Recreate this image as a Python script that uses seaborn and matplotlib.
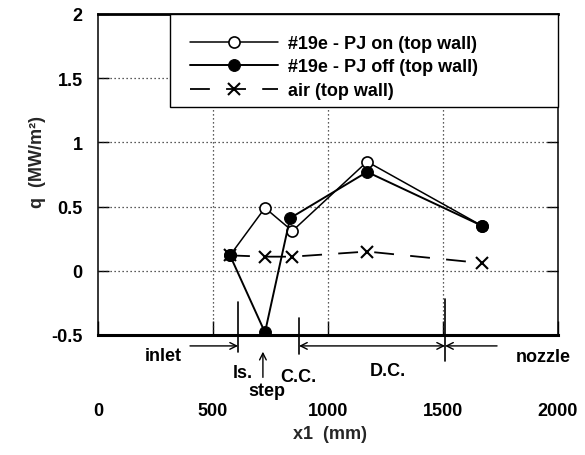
import matplotlib
matplotlib.use("Agg")
import matplotlib.pyplot as plt
from matplotlib.patches import Rectangle
import seaborn as sns
import pandas as pd

# ---- data ----
x_on = [574, 726, 845, 1170, 1670]
q_on = [0.12, 0.49, 0.31, 0.85, 0.35]
x_off = [574, 726, 835, 1170, 1670]
q_off = [0.12, -0.48, 0.41, 0.77, 0.35]
x_air = [574, 726, 845, 1170, 1670]
q_air = [0.12, 0.11, 0.11, 0.15, 0.06]
series_labels = ["#19e - PJ on (top wall)", "#19e - PJ off (top wall)", "air (top wall)"]
xticks = [0, 500, 1000, 1500, 2000]
yticks = [-0.5, 0, 0.5, 1, 1.5, 2]
ytick_labels = ["-0.5", "0", "0.5", "1", "1.5", "2"]
region_bounds = [609, 874, 1509]
region_names = ["inlet", "ls.", "step", "C.C.", "D.C.", "nozzle"]

sns.set_theme(style="ticks")
plt.rcParams["font.family"] = ["Liberation Sans", "DejaVu Sans"]
plt.rcParams["font.weight"] = "bold"
plt.rcParams["text.color"] = "black"

FS = 13

fig = plt.figure(figsize=(5.85, 4.56), dpi=100)
ax = fig.add_axes([98 / 585, 1 - 336 / 456, 460 / 585, 321 / 456])

df_on = pd.DataFrame({"x": x_on, "q": q_on})
df_off = pd.DataFrame({"x": x_off, "q": q_off})
df_air = pd.DataFrame({"x": x_air, "q": q_air})

sns.lineplot(data=df_air, x="x", y="q", ax=ax, sort=False, estimator=None,
             color="black", lw=1.3, dashes=False, label=series_labels[2],
             marker="x", markersize=8, markeredgewidth=1.5,
             markeredgecolor="black", zorder=3)
ax.lines[-1].set_dashes((11, 9))
sns.lineplot(data=df_on, x="x", y="q", ax=ax, sort=False, estimator=None,
             color="black", lw=1.1, label=series_labels[0],
             marker="o", markersize=8, markerfacecolor="white",
             markeredgecolor="black", markeredgewidth=1.2, zorder=4)
sns.lineplot(data=df_off, x="x", y="q", ax=ax, sort=False, estimator=None,
             color="black", lw=1.4, label=series_labels[1],
             marker="o", markersize=8.5, markerfacecolor="black",
             markeredgecolor="black", zorder=5)

ax.set_xlim(0, 2000)
ax.set_ylim(-0.5, 2)
ax.set_xticks(xticks)
ax.set_yticks(yticks)
ax.set_yticklabels(ytick_labels)

for v in yticks[1:-1]:
    ax.axhline(v, color="0.15", lw=0.9, ls=(0, (1, 2.2)), zorder=1)
for v in xticks[1:-1]:
    ax.axvline(v, color="0.15", lw=0.9, ls=(0, (1, 2.2)), zorder=1)

ax.tick_params(axis="y", which="both", direction="in", left=True, right=True,
               length=8, width=1, labelsize=FS, pad=11, colors="black")
ax.tick_params(axis="x", which="both", direction="in", bottom=True, top=False,
               length=10, width=1, labelsize=FS, pad=48, colors="black")

for side, lw in [("left", 1.1), ("right", 1.1), ("top", 2.0), ("bottom", 2.2)]:
    ax.spines[side].set_visible(True)
    ax.spines[side].set_linewidth(lw)
    ax.spines[side].set_color("black")

ax.set_xlabel("x1  (mm)", fontsize=FS, fontweight="bold")
ax.set_ylabel("q  (MW/m²)", fontsize=FS, fontweight="bold")
ax.xaxis.set_label_coords((330 - 98) / 460, (336 - 426) / 321)
ax.yaxis.set_label_coords((46 - 98) / 460, (336 - 162) / 321)

# legend frame
rect = Rectangle(((170 - 98) / 460, (336 - 108) / 321), 1 - (170 - 98) / 460,
                 1 - (336 - 108) / 321, transform=ax.transAxes, facecolor="white",
                 edgecolor="black", lw=1.0, zorder=6, clip_on=False)
ax.add_patch(rect)
handles, labels = ax.get_legend_handles_labels()
order = [labels.index(l) for l in series_labels]
leg = ax.legend([handles[i] for i in order], [labels[i] for i in order],
                loc="upper left", bbox_to_anchor=((190 - 98) / 460, (336 - 36) / 321),
                frameon=False, borderpad=0, borderaxespad=0,
                prop={"size": FS, "weight": "bold"},
                handlelength=4.9, handletextpad=0.5, labelspacing=0.36)
leg.set_zorder(7)

# region annotations below the axis
lo = [-0.63, -0.65, -0.70]
hi = [-0.24, -0.37, -0.22]
for xb, y0, y1 in zip(region_bounds, lo, hi):
    ax.plot([xb, xb], [y0, y1], color="black", lw=1.2, clip_on=False, zorder=3)

ya = -0.585
arrow = dict(arrowstyle="->", color="black", lw=1.0, shrinkA=0, shrinkB=0)
ax.annotate("", xy=(region_bounds[0], ya), xytext=(400, ya), arrowprops=arrow,
            annotation_clip=False)
ax.annotate("", xy=(region_bounds[1], ya), xytext=(region_bounds[2], ya),
            arrowprops=dict(arrowstyle="<->", color="black", lw=1.0, shrinkA=0, shrinkB=0),
            annotation_clip=False)
ax.annotate("", xy=(region_bounds[2], ya), xytext=(1735, ya), arrowprops=arrow,
            annotation_clip=False)
ax.annotate("", xy=(717, -0.63), xytext=(717, -0.83), arrowprops=arrow,
            annotation_clip=False)

tk = dict(fontsize=FS, fontweight="bold", ha="center", va="center", clip_on=False)
ax.text(285, -0.66, region_names[0], **tk)
ax.text(630, -0.79, region_names[1], **tk)
ax.text(735, -0.93, region_names[2], **tk)
ax.text(872, -0.82, region_names[3], **tk)
ax.text(1261, -0.78, region_names[4], **tk)
ax.text(1935, -0.67, region_names[5], **tk)

fig.savefig("out.png", dpi=100)
